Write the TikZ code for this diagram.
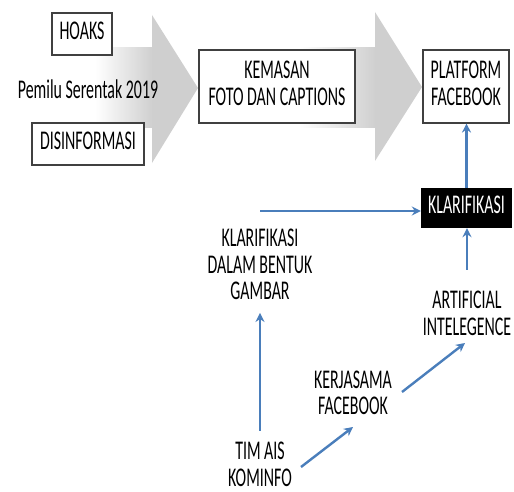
\documentclass[tikz,border=0pt]{standalone}
\usepackage{fontspec}
\setmainfont{Carlito}
\usepackage{graphicx}
\usetikzlibrary{arrows.meta}
\definecolor{arrblue}{HTML}{4A7EBB}
\definecolor{bigarr}{HTML}{CFCFCF}
\newcommand\vs[1]{\scalebox{1}[1.7]{\begin{tabular}{@{}c@{}}#1\end{tabular}}}
\begin{document}
\begin{tikzpicture}[x=1pt,y=-1pt,
  txt/.style={inner sep=0pt,font=\fontsize{15.9}{15.6}\selectfont},
  boxed/.style={txt,draw=black!75,line width=1.1pt,fill=white},
  conn/.style={draw=arrblue,line width=2.4pt,-{Stealth[length=9pt,width=9pt,inset=3pt]}}]
\useasboundingbox (0,0) rectangle (514,492);
% big grey arrows
\shade[left color=white,right color=bigarr] (95,48) rectangle (153,128);
\fill[bigarr] (152,48) -- (152,15) -- (198,88) -- (152,163) -- (152,128) -- cycle;
\shade[left color=white,right color=bigarr] (300,48) rectangle (376,128);
\fill[bigarr] (375,48) -- (375,12) -- (422,87) -- (375,161) -- (375,128) -- cycle;
% boxes
\node[boxed,minimum width=60pt,minimum height=42pt] (hoaks) at (82,34) {\vs{HOAKS}};
\node[txt] (pemilu) at (88,93) {\vs{Pemilu Serentak 2019}};
\node[boxed,minimum width=112pt,minimum height=42pt] (disinfo) at (88,144) {\vs{DISINFORMASI}};
\node[boxed,minimum width=156pt,minimum height=73pt] (kemasan) at (277,86.5) {\vs{KEMASAN\\FOTO DAN CAPTIONS}};
\node[boxed,minimum width=86pt,minimum height=73pt] (platform) at (466,86.5) {\vs{PLATFORM\\FACEBOOK}};
\node[txt,fill=black,text=white,minimum width=91pt,minimum height=40pt] (klar) at (466.5,208) {\vs{KLARIFIKASI}};
% text nodes
\node[txt] (gambar) at (260,268) {\vs{KLARIFIKASI\\DALAM BENTUK\\GAMBAR}};
\node[txt] (ai) at (467,316.5) {\vs{ARTIFICIAL\\INTELEGENCE}};
\node[txt] (kerja) at (353,396) {\vs{KERJASAMA\\FACEBOOK}};
\node[txt] (tim) at (260,467.5) {\vs{TIM AIS\\KOMINFO}};
% free ends
\coordinate (hstart) at (260,211);
\coordinate (t1) at (301,467);
\coordinate (k1) at (353,427);
\coordinate (k2) at (402,392);
\coordinate (a1) at (465,343);
% connectors
\draw[conn] (klar.north) -- (klar.north |- platform.south);
\draw[conn] (hstart) -- (hstart -| klar.west);
\draw[conn] ([yshift=20pt]ai.north) -- (ai.north |- klar.south);
\draw[conn] ([yshift=10pt]tim.north) -- ([yshift=-5pt]gambar.south);
\draw[conn] (t1) -- (k1);
\draw[conn] (k2) -- (a1);
\end{tikzpicture}
\end{document}
